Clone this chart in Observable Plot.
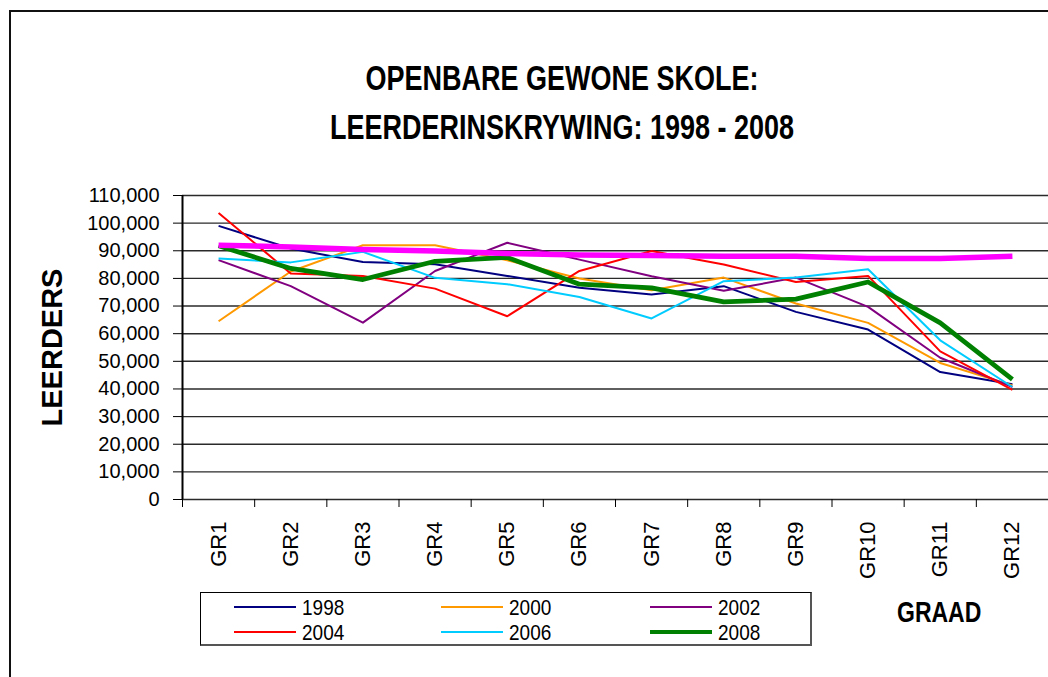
<!DOCTYPE html>
<html><head><meta charset="utf-8">
<script src="https://cdn.jsdelivr.net/npm/d3@7"></script>
<script src="https://cdn.jsdelivr.net/npm/@observablehq/plot@0.6"></script>
<style>
html,body{margin:0;padding:0;background:#fff;}
body{width:1048px;height:677px;overflow:hidden;position:relative;font-family:"Liberation Sans",Arial,sans-serif;color:#000;}
#frame{position:absolute;left:9px;top:10px;width:1200px;height:800px;border-left:2px solid #111;border-top:2px solid #111;}
.title{position:absolute;left:0;width:1124px;text-align:center;font-weight:bold;font-size:27px;line-height:27px;transform:scaleY(1.3);white-space:nowrap;}
#chart{position:absolute;left:0;top:150px;}
#legend{position:absolute;left:200px;top:592px;width:612px;height:54px;border:1px solid #000;border-bottom:2px solid #555;border-right:2px solid #555;box-sizing:border-box;}
.lg-text{position:absolute;font-size:19px;line-height:16px;transform:scaleY(1.15);white-space:nowrap;}
.lg-line{position:absolute;height:0;}
#xlabel{position:absolute;left:897px;top:601px;font-weight:bold;font-size:23px;line-height:23px;transform:scaleY(1.25);}
</style>
</head>
<body>
<div id="frame"></div>
<div class="title" id="t1" style="top:65px">OPENBARE GEWONE SKOLE:</div>
<div class="title" id="t2" style="top:114px">LEERDERINSKRYWING: 1998 - 2008</div>
<div id="chart"></div>
<div id="legend"></div>
<div id="xlabel">GRAAD</div>
<script>
// ---- data ----
const grades = ["GR1","GR2","GR3","GR4","GR5","GR6","GR7","GR8","GR9","GR10","GR11","GR12"];
const yTicks = [0,10000,20000,30000,40000,50000,60000,70000,80000,90000,100000,110000];
const years = ["1998","2000","2002","2004","2006","2008"];
const v1998 = [99000, 90800, 85900, 85100, 80900, 76600, 74200, 77200, 67900, 61500, 46100, 41700];
const v2000 = [64500, 82500, 92000, 92000, 86600, 80000, 75700, 80300, 70900, 63900, 49400, 41300];
const v2002 = [86600, 77200, 64000, 82700, 92900, 86800, 80800, 75500, 80300, 69700, 51300, 40700];
const v2004 = [103700, 81800, 80900, 76300, 66300, 82700, 89900, 85000, 78700, 80900, 53600, 39700];
const v2006 = [87200, 85800, 89600, 80200, 77900, 73300, 65500, 79000, 80300, 83300, 57600, 40700];
const v2008 = [91800, 83600, 79600, 86200, 87600, 77900, 76600, 71500, 72500, 78700, 63900, 43500];
const vMagenta = [92000, 91400, 90500, 89900, 89000, 88500, 88300, 88000, 88000, 87200, 87200, 88000];

// ---- styles ----
const seriesDefs = [
  {name: "1998", values: v1998, color: "#000080", width: 2, legend: true},
  {name: "2000", values: v2000, color: "#FF9900", width: 2, legend: true},
  {name: "2002", values: v2002, color: "#800080", width: 2, legend: true},
  {name: "2004", values: v2004, color: "#FF0000", width: 2, legend: true},
  {name: "2006", values: v2006, color: "#00CCFF", width: 2, legend: true},
  {name: "2008", values: v2008, color: "#008000", width: 4.8, legend: true},
  {name: "magenta", values: vMagenta, color: "#FF00FF", width: 5.5, legend: false}
];

const rows = seriesDefs.flatMap(s => s.values.map((v, i) => ({series: s.name, i, v})));
const idx = grades.map((_, i) => i);
const boundaries = d3.range(-0.5, grades.length, 1);

const lineMarks = seriesDefs.map(s => Plot.line(rows.filter(r => r.series === s.name), {
  x: "i", y: "v", stroke: s.color, strokeWidth: s.width, strokeLinejoin: "round", strokeLinecap: "butt"
}));

const chart = Plot.plot({
  width: 1048, height: 440,
  marginLeft: 182, marginRight: 0, marginTop: 45, marginBottom: 91,
  style: {fontFamily: '"Liberation Sans", Arial, sans-serif', background: "transparent", color: "#000", overflow: "visible"},
  x: {domain: [-0.5, grades.length - 0.5]},
  y: {domain: [0, 110000]},
  marks: [
    Plot.ruleY(yTicks, {stroke: "#2a2a2a", strokeWidth: 1.4}),
    Plot.ruleX([-0.5], {y1: 0, y2: 110000, stroke: "#000", strokeWidth: 2}),
    Plot.axisY({ticks: yTicks, tickFormat: d3.format(","), tickSize: 9, tickPadding: 14, fontSize: 20, label: null}),
    Plot.axisX({ticks: boundaries, tickFormat: () => "", tickSize: 8, label: null}),
    Plot.axisX({ticks: idx, tickFormat: i => grades[i], tickSize: 0, tickPadding: 22, tickRotate: -90, fontSize: 22, label: null}),
    ...lineMarks,
    Plot.text(["LEERDERS"], {frameAnchor: "left", dx: -130, rotate: -90, fontSize: 29, fontWeight: "bold", textAnchor: "middle", lineAnchor: "middle"})
  ]
});
document.getElementById("chart").appendChild(chart);

// ---- legend ----
const legend = document.getElementById("legend");
const colX = [33, 240, 449];
const rowY = [14, 39];
seriesDefs.filter(s => s.legend).forEach((s, k) => {
  const c = k % 3, r = Math.floor(k / 3);
  const ln = document.createElement("div");
  ln.className = "lg-line";
  ln.style.left = colX[c] + "px";
  ln.style.width = "62px";
  ln.style.top = (rowY[r] - s.width / 2) + "px";
  ln.style.borderTop = s.width + "px solid " + s.color;
  legend.appendChild(ln);
  const tx = document.createElement("div");
  tx.className = "lg-text";
  tx.textContent = s.name;
  tx.style.left = (colX[c] + 68) + "px";
  tx.style.top = (rowY[r] + 1 - 8) + "px";
  legend.appendChild(tx);
});
</script>
</body></html>
